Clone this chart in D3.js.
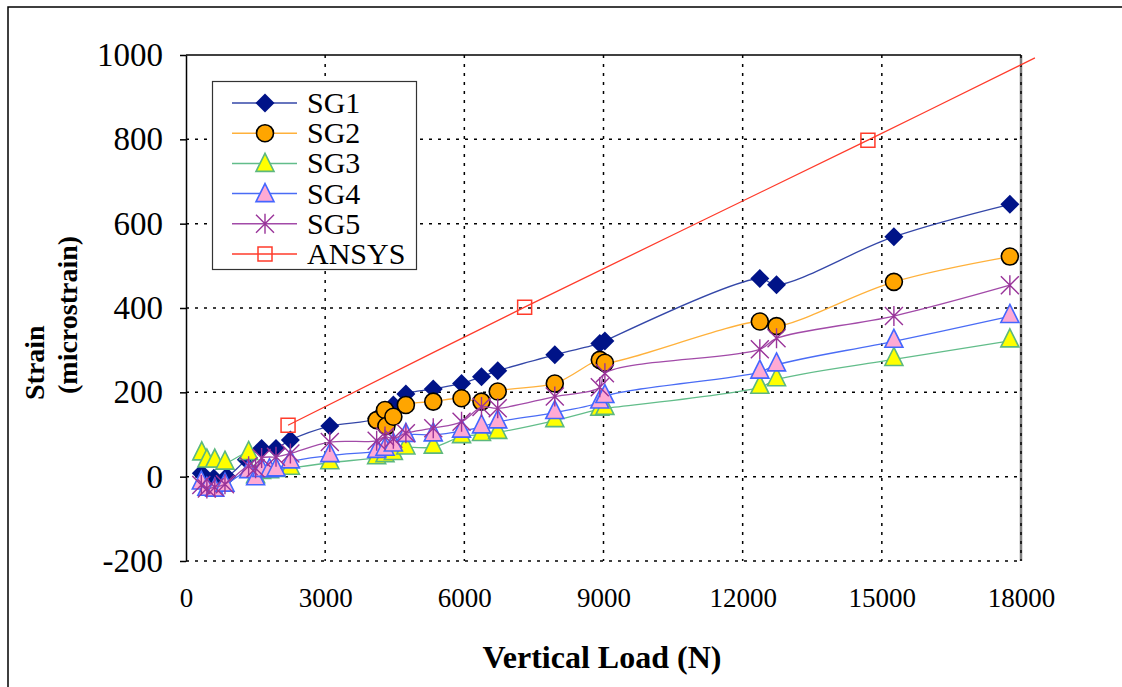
<!DOCTYPE html>
<html>
<head>
<meta charset="utf-8">
<script src="https://cdn.jsdelivr.net/npm/d3@7"></script>
<style>
  body { margin: 0; background: #fff; }
  svg { display: block; font-family: "Liberation Serif", "Times New Roman", serif; }
</style>
</head>
<body>
<div id="chart"></div>
<script>
// load (N) vs strain (microstrain)
var sg1 = [[330,8],[600,-4],[880,0],[1300,40],[1630,67],[1940,67],[2250,87],[3100,120],[4110,138],[4470,170],[4740,196],[5330,208],[5940,221],[6370,237],[6720,251],[7950,289],[8920,316],[9030,322],[12370,470],[12730,455],[15260,569],[17760,646]]
var sg2 = [[4110,134],[4290,158],[4320,120],[4470,142],[4740,170],[5330,178],[5940,186],[6370,178],[6720,202],[7950,221],[8920,277],[9030,270],[12370,368],[12730,357],[15260,462],[17760,522]]
var sg3 = [[340,54],[450,37],[620,37],[840,32],[1350,55],[1500,0],[1630,10],[1800,12],[1940,15],[2250,20],[3100,33],[4110,45],[4290,50],[4470,55],[4740,68],[5330,70],[5940,95],[6370,100],[6720,105],[7950,133],[8920,160],[9030,162],[12370,212],[12730,230],[15260,278],[17760,322]]
var sg4 = [[330,-15],[450,-30],[620,-32],[840,-20],[1350,12],[1500,-5],[1630,15],[1800,14],[1940,16],[2250,35],[3100,50],[4110,60],[4290,65],[4470,75],[4740,98],[5330,99],[5940,108],[6370,118],[6720,130],[7950,152],[8920,177],[9030,190],[12370,248],[12730,265],[15260,321],[17760,380]]
var sg5 = [[330,-20],[450,-28],[620,-25],[840,-18],[1350,25],[1500,20],[1630,44],[1940,47],[2250,55],[3100,82],[4110,85],[4290,95],[4470,90],[4740,103],[5330,115],[5940,130],[6370,165],[6720,162],[7950,190],[8920,212],[9030,245],[12370,302],[12730,328],[15260,381],[17760,454]]
var ansys = [[2200,122],[7300,402],[14700,798],[18300,993]]

var seriesNames = ["SG1", "SG2", "SG3", "SG4", "SG5", "ANSYS"]
var xTicks = [0, 3000, 6000, 9000, 12000, 15000, 18000]
var yTicks = [-200, 0, 200, 400, 600, 800, 1000]

var width = 1122, height = 687
// plot area
var plotL = 186, plotR = 1021, plotT = 55, plotB = 561

var svg = d3.select("#chart").append("svg")
  .attr("width", width)
  .attr("height", height)

// outer frame (runs off the right and bottom of the picture)
svg.append("rect")
  .attr("x", 8).attr("y", 7)
  .attr("width", 1200).attr("height", 800)
  .attr("fill", "none")
  .attr("stroke", "#000")
  .attr("stroke-width", 1.5)

var x = d3.scaleLinear().domain([0, 18000]).range([plotL, plotR])
var y = d3.scaleLinear().domain([-200, 1000]).range([plotB, plotT])

// right border of plot area
svg.append("line")
  .attr("x1", plotR).attr("x2", plotR)
  .attr("y1", plotT).attr("y2", plotB)
  .attr("stroke", "#808080").attr("stroke-width", 2.5)

// dotted grid
svg.append("g").selectAll("line")
  .data(xTicks.slice(1))
  .enter().append("line")
  .attr("x1", function(d) { return x(d) })
  .attr("x2", function(d) { return x(d) })
  .attr("y1", plotT).attr("y2", plotB)
  .attr("stroke", "#000").attr("stroke-width", 1.5)
  .attr("stroke-dasharray", "3,6")
svg.append("g").selectAll("line")
  .data(yTicks.slice(0, -1))
  .enter().append("line")
  .attr("x1", plotL).attr("x2", plotR)
  .attr("y1", function(d) { return y(d) })
  .attr("y2", function(d) { return y(d) })
  .attr("stroke", "#000").attr("stroke-width", 1.5)
  .attr("stroke-dasharray", "3,6")

// top border
svg.append("line")
  .attr("x1", plotL).attr("x2", plotR)
  .attr("y1", plotT).attr("y2", plotT)
  .attr("stroke", "#000").attr("stroke-width", 1.5)

var plain = function(d) { return String(d) }

// y axis
var yAxis = svg.append("g")
  .attr("transform", "translate(" + plotL + ",0)")
  .call(d3.axisLeft(y).tickValues(yTicks).tickFormat(plain).tickSize(6).tickSizeOuter(0).tickPadding(17))
yAxis.select(".domain").attr("stroke-width", 1.5)
yAxis.selectAll(".tick line").attr("stroke-width", 1.5)
yAxis.selectAll("text")
  .style("font-family", "Liberation Serif, serif")
  .style("font-size", "33px")
  .attr("fill", "#000")

// x axis labels only
var xAxis = svg.append("g")
  .attr("transform", "translate(0," + plotB + ")")
  .call(d3.axisBottom(x).tickValues(xTicks).tickFormat(plain).tickSize(0).tickPadding(27))
xAxis.select(".domain").remove()
xAxis.selectAll("text")
  .style("font-family", "Liberation Serif, serif")
  .style("font-size", "27px")
  .attr("fill", "#000")

// axis titles
svg.append("text")
  .attr("x", 602).attr("y", 668)
  .attr("text-anchor", "middle")
  .style("font-size", "32px").style("font-weight", "bold")
  .text("Vertical Load (N)")
svg.append("text")
  .attr("transform", "translate(44,400) rotate(-90)")
  .attr("text-anchor", "start")
  .style("font-size", "28px").style("font-weight", "bold")
  .text("Strain")
svg.append("text")
  .attr("transform", "translate(77,394) rotate(-90)")
  .attr("text-anchor", "start")
  .style("font-size", "28px").style("font-weight", "bold")
  .text("(microstrain)")

// marker shapes
var diamond = "M0,-9.5L9.5,0L0,9.5L-9.5,0Z"
var triangle = "M0,-12L9,6L-9,6Z"
var asterisk = "M0,-10V10M-9,-9L9,9M-9,9L9,-9"
var square = "M-7,-7H7V7H-7Z"

var styles = [
  { data: sg1, line: "#3447a8", path: diamond, fill: "#001388", stroke: "none", sw: 0 },
  { data: sg2, line: "#ffb13b", path: null, fill: "#ffa500", stroke: "#000", sw: 1.6 },
  { data: sg3, line: "#62bd8a", path: triangle, fill: "#ffff00", stroke: "#5cb87e", sw: 1.6 },
  { data: sg4, line: "#4a6cf5", path: triangle, fill: "#ffaad4", stroke: "#4466ff", sw: 1.6 },
  { data: sg5, line: "#a24aa8", path: asterisk, fill: "none", stroke: "#993399", sw: 1.4 },
  { data: ansys, line: "#ff3b2b", path: square, fill: "none", stroke: "#ff3b2b", sw: 1.5 }
]

var line = d3.line()
  .x(function(d) { return x(d[0]) })
  .y(function(d) { return y(d[1]) })
  .curve(d3.curveCatmullRom.alpha(0.5))

function drawMarker(g, s, cx, cy) {
  if (s.path == null) {
    g.append("circle")
      .attr("cx", cx).attr("cy", cy).attr("r", 8.5)
      .attr("fill", s.fill).attr("stroke", s.stroke).attr("stroke-width", s.sw)
  } else {
    g.append("path")
      .attr("d", s.path)
      .attr("transform", "translate(" + cx + "," + cy + ")")
      .attr("fill", s.fill)
      .attr("stroke", s.stroke)
      .attr("stroke-width", s.sw)
  }
}

styles.forEach(function(s) {
  var g = svg.append("g")
  g.append("path")
    .datum(s.data)
    .attr("d", line)
    .attr("fill", "none")
    .attr("stroke", s.line)
    .attr("stroke-width", 1.3)
  s.data.forEach(function(d) {
    if (d[0] <= 18000) drawMarker(g, s, x(d[0]), y(d[1]))
  })
})

// legend
var legend = svg.append("g")
legend.append("rect")
  .attr("x", 212.5).attr("y", 81.5)
  .attr("width", 204).attr("height", 188)
  .attr("fill", "#fff").attr("stroke", "#333").attr("stroke-width", 1.2)
seriesNames.forEach(function(name, i) {
  var s = styles[i]
  var ly = 103 + i * 30.2
  legend.append("line")
    .attr("x1", 232).attr("x2", 297)
    .attr("y1", ly).attr("y2", ly)
    .attr("stroke", s.line).attr("stroke-width", 1.5)
  drawMarker(legend, s, 265, s.path === triangle ? ly + 2 : ly)
  legend.append("text")
    .attr("x", 307).attr("y", ly + 10)
    .style("font-size", "30px")
    .text(name)
})
</script>
</body>
</html>
